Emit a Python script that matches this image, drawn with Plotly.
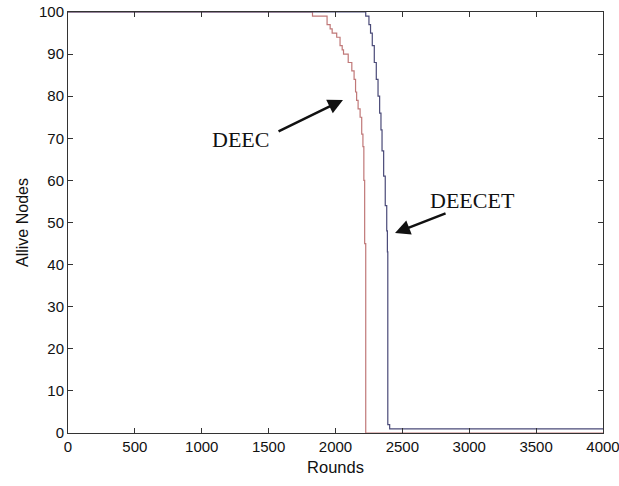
import plotly.graph_objects as go

# Data (rounds vs alive nodes, step curves)
deec_rounds = [0, 1828, 1937, 1960, 1975, 2009, 2034, 2050, 2060, 2095, 2122, 2139, 2150, 2158, 2169, 2184, 2196, 2205, 2212, 2218, 2226, 4000]
deec_alive = [100, 99, 97, 96, 95, 94, 92, 91, 90, 88, 86, 84, 81, 79, 77, 75, 71, 68, 60, 45, 0, 0]

deecet_rounds = [0, 2226, 2250, 2262, 2275, 2290, 2305, 2318, 2330, 2340, 2348, 2360, 2372, 2383, 2388, 2391, 2405, 4000]
deecet_alive = [100, 99, 97, 95, 92, 88, 84, 80, 76, 72, 67, 61, 54, 48, 43, 2, 1, 1]

x_ticks = [0, 500, 1000, 1500, 2000, 2500, 3000, 3500, 4000]
y_ticks = [0, 10, 20, 30, 40, 50, 60, 70, 80, 90, 100]

fig = go.Figure()
fig.add_trace(go.Scatter(x=deec_rounds, y=deec_alive, mode="lines", line_shape="hv",
                         line=dict(color="#c07878", width=1.2), name="DEEC"))
fig.add_trace(go.Scatter(x=deecet_rounds, y=deecet_alive, mode="lines", line_shape="hv",
                         line=dict(color="#4a4a78", width=1.2), name="DEECET"))

axis_common = dict(showgrid=False, zeroline=False, showline=True, mirror="ticks",
                   linecolor="#333333", linewidth=1, ticks="inside", ticklen=5,
                   tickcolor="#333333", ticklabeloverflow="allow", automargin=False,
                   tickfont=dict(family="Liberation Sans, Arial", size=15, color="#111111"))

fig.update_xaxes(range=[0, 4000.001], tickvals=x_ticks, ticktext=[str(v) for v in x_ticks],
                 title=dict(text="Rounds", font=dict(family="Liberation Sans, Arial", size=16.5, color="#111111"), standoff=7),
                 **axis_common)
fig.update_yaxes(range=[0, 100.001], tickvals=y_ticks, ticktext=[str(v) for v in y_ticks],
                 title=dict(text="Allive Nodes", font=dict(family="Liberation Sans, Arial", size=16, color="#111111"), standoff=6),
                 **axis_common)

ann_font = dict(family="Liberation Serif, Times New Roman", size=22, color="#111111")
fig.add_annotation(x=1293, y=69.8, text="DEEC", showarrow=False, font=ann_font)
fig.add_annotation(x=3028, y=55.3, text="DEECET", showarrow=False, font=ann_font)
fig.add_annotation(x=2056, y=79.1, ax=1563, ay=71.5, axref="x", ayref="y", xref="x", yref="y",
                   text="", showarrow=True, arrowhead=2, arrowsize=1.2, arrowwidth=2.5, arrowcolor="#111111")
fig.add_annotation(x=2445, y=47.5, ax=2834, ay=52.3, axref="x", ayref="y", xref="x", yref="y",
                   text="", showarrow=True, arrowhead=2, arrowsize=1.2, arrowwidth=2.5, arrowcolor="#111111")

fig.update_layout(width=619, height=486, margin=dict(l=68, r=16, t=12, b=53),
                  paper_bgcolor="white", plot_bgcolor="white", showlegend=False)

fig.write_html("out.html")
